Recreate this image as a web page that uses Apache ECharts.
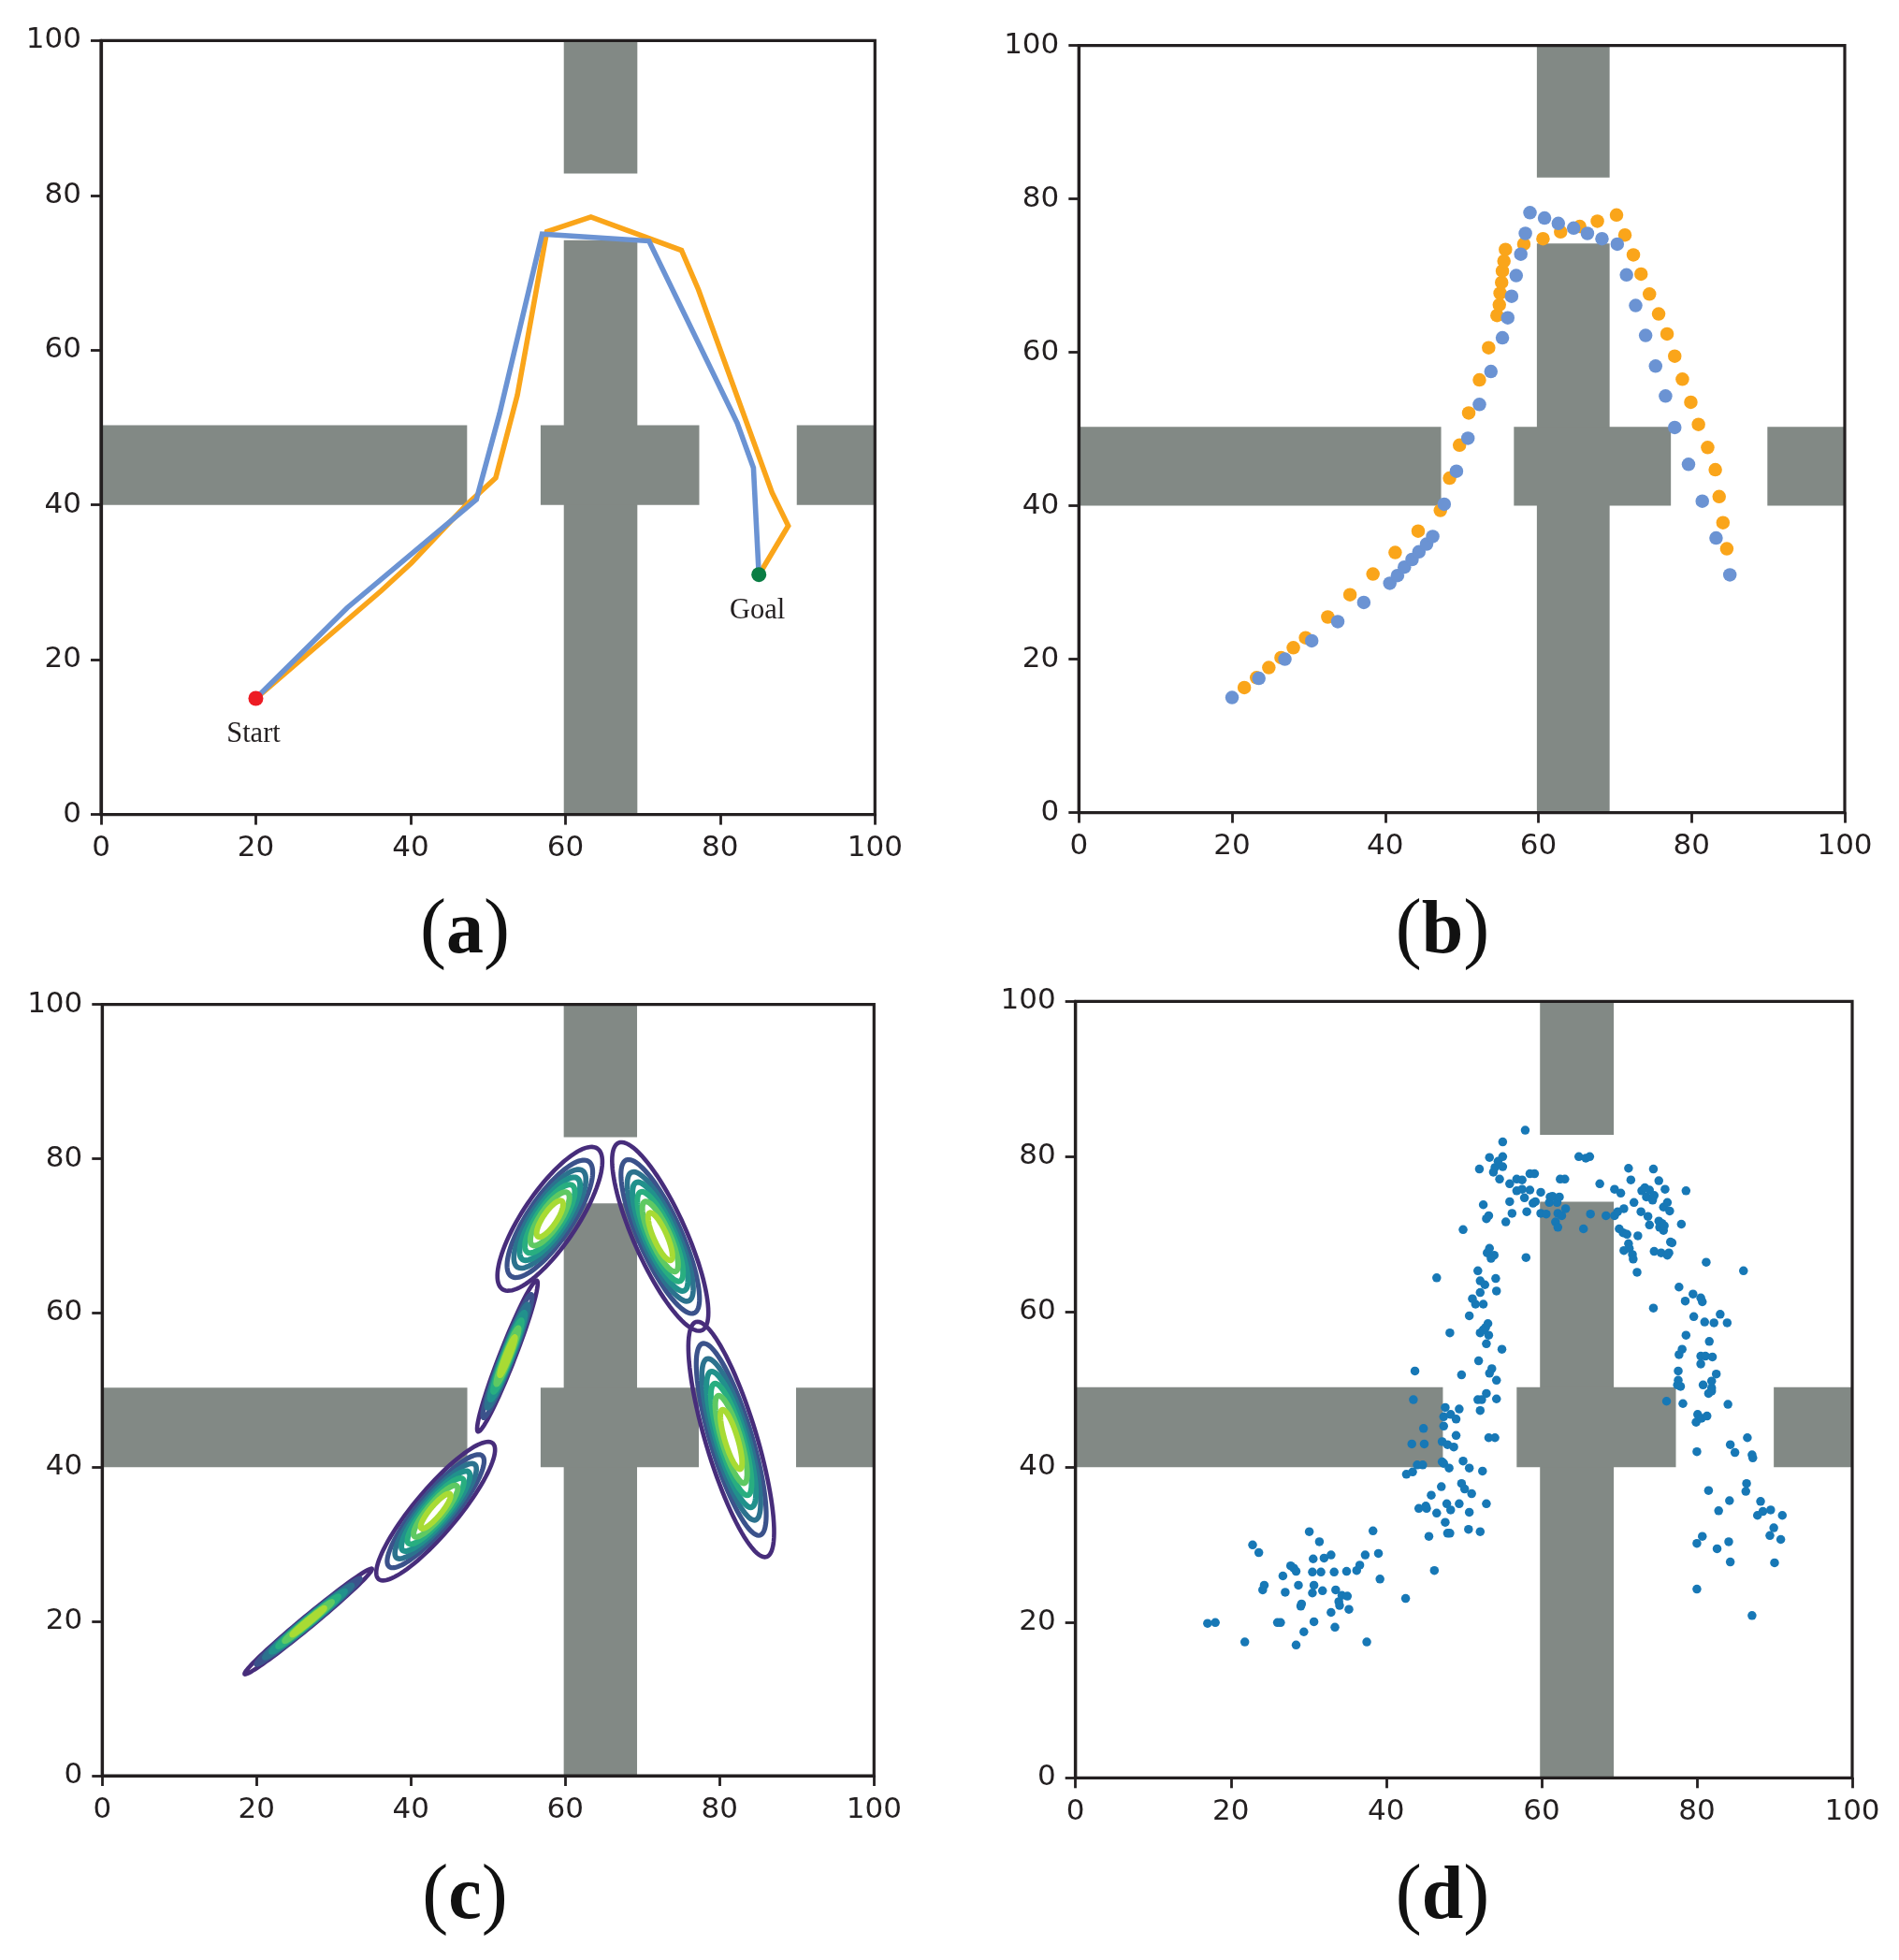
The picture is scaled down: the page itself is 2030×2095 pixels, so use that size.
<!DOCTYPE html>
<html>
<head>
<meta charset="utf-8">
<style>html,body{margin:0;padding:0;background:#fff}#c{width:2030px;height:2095px}</style>
<script src="https://cdn.jsdelivr.net/npm/echarts@6/dist/echarts.min.js"></script>
</head>
<body>
<div id="c"></div>
<script>
const tickValues = [0, 20, 40, 60, 80, 100];
// x0, x1, y0, y1
const obstacleRects = [[59.8,69.3,82.8,100],[59.8,69.3,0,74.2],[0,47.3,40,50.3],[56.8,77.3,40,50.3],[89.9,100,40,50.3]];

const panelAOrange = [[20,15],[36.2,28.9],[40.1,32.5],[47.2,40],[51,43.5],[53.8,54.2],[57.6,75.3],[63.3,77.2],[75,72.9],[77.2,67.8],[86.7,41.6],[88.8,37.3],[85.1,31.1]];
const panelABlue = [[20,15],[31.8,26.7],[48.5,40.7],[51.5,51.8],[57,75],[70.8,74.1],[82.2,50.6],[84.3,44.8],[85,31]];
const startPoint = [20,15];
const goalPoint = [85,31];
const annotationLabels = [['Start',19.7,10.3],['Goal',84.8,26.3]];

const panelBOrange = [[21.6,16.3],[23.2,17.6],[24.8,18.9],[26.4,20.2],[28,21.5],[29.6,22.8],[32.5,25.5],[35.4,28.4],[38.4,31.1],[41.3,33.9],[44.3,36.7],[47.2,39.4],[48.4,43.6],[49.7,47.9],[50.9,52.1],[52.3,56.4],[53.5,60.6],[54.6,64.8],[54.9,66.2],[55,67.7],[55.2,69.1],[55.3,70.6],[55.5,71.9],[55.7,73.4],[58.1,74.1],[60.6,74.8],[62.9,75.7],[65.4,76.4],[67.7,77.1],[70.2,77.9],[71.3,75.3],[72.4,72.7],[73.4,70.2],[74.5,67.6],[75.7,65],[76.8,62.4],[77.8,59.5],[78.8,56.5],[79.9,53.5],[80.9,50.6],[82.1,47.6],[83.1,44.7],[83.6,41.2],[84.1,37.8],[84.6,34.4]];
const panelBBlue = [[20,15],[23.5,17.5],[26.9,20],[30.4,22.4],[33.8,24.9],[37.2,27.4],[40.6,29.9],[41.6,30.9],[42.5,32],[43.5,33],[44.4,34],[45.4,35],[46.2,36],[47.7,40.2],[49.3,44.5],[50.8,48.8],[52.3,53.2],[53.8,57.5],[55.3,61.9],[56,64.5],[56.5,67.3],[57.1,70],[57.7,72.8],[58.3,75.5],[58.9,78.2],[60.8,77.5],[62.6,76.8],[64.6,76.2],[66.4,75.5],[68.3,74.8],[70.3,74.1],[71.5,70.1],[72.7,66.1],[74,62.2],[75.3,58.2],[76.6,54.3],[77.8,50.2],[79.6,45.4],[81.4,40.6],[83.2,35.8],[85,31]];

// centre x, centre y, semi-major, semi-minor, angle (deg) of outermost contour
const contourEllipses = [[26.7,20,10.7,0.75,39.6],[43.2,34.3,11.5,2.8,50],[52.5,54.4,10.5,1,68.7],[58,72.2,11,3.5,56],[72.3,69.9,13.3,3.4,-66],[81.5,43.6,15.9,3.3,-73.3]];
const contourScales = [1,0.816,0.686,0.577,0.475,0.372,0.253];
const contourColors = ['#472d7b','#3b528b','#2c728e','#21918c','#28ae80','#5ec962','#a8db34'];
const contourWidths = [4.6,5.2,5.6,6,6,6,6];

const panelDPoints = [[17,19.9],[18,20],[21.8,17.5],[22.8,30],[23.6,29],[24.1,24.2],[24.3,24.8],[26,20],[26.4,20],[26.7,26],[27,23.9],[27.7,27.3],[28.1,27],[28.4,26.6],[28.4,17.1],[28.7,24.8],[29,22.1],[29.1,22.4],[29.4,18.8],[30.1,31.7],[30.5,26.5],[30.6,28.2],[30.5,23.8],[30.7,24.8],[30.7,20.1],[31.4,30.4],[31.6,26.5],[31.8,24.1],[32,28.3],[32.9,28.7],[32.9,21.3],[33.3,26.5],[33.4,19.4],[33.5,24.2],[33.9,22.7],[34,22.2],[34.3,23.5],[35,23.4],[34.9,26.6],[35.2,21.7],[36.2,26.7],[36.6,27.4],[37.3,28.7],[37.5,17.5],[38.3,31.8],[39,28.9],[39.2,25.6],[42.5,23.1],[46.2,26.7],
[42.6,39.1],[43.4,39.4],[43.3,43],[43.5,48.7],[43.7,52.4],[44,40.3],[44.7,40.3],[44.8,45],[44.9,43],[44.2,34.7],[45.2,34.7],[45.1,35],[45.5,31.1],[45.8,36.4],[46.5,64.4],[46.5,34.1],[47.1,37.5],[47.2,40.7],[47.4,40.5],[47.2,43.3],[47.4,45.3],[47.4,46.5],[47.6,47.7],[47.9,42.9],[48.1,39.9],[47.8,35.3],[47.6,32.9],[47.9,31.5],[48.2,31.5],[48.3,34.5],[48.3,46.8],[48.2,57.3],[48.7,42.6],[49,44.1],[49,46.2],[49.4,47.5],[49.4,35.3],[49.7,37.9],[49.9,40.8],[50.1,37.2],[49.7,51.9],[49.9,70.6],[50.6,32],[50.7,34.2],[50.7,39.9],[51,36.6],[52.1,31.7],[52.4,39.5],[52.9,35.3],[53.2,43.8],[54,43.8],
[52.1,47.3],[51.8,48.7],[52.3,48.7],[52.9,49.5],[54.2,48.8],[54.2,51.2],[53.3,52.1],[53.6,52.7],[51.9,53.7],[54.9,55.2],[52.9,55.9],[53.2,57],[52.1,57.3],[52.5,57.7],[52.8,58],[53.1,58.5],[50.7,59.5],[51.1,61.7],[51.5,61],[52.5,61],[52.1,62.5],[54.2,62.7],[52.7,63.5],[52.1,64],[54.1,64.3],[51.8,65.3],[53,67.6],[53.9,67.3],[53.5,66.9],[53.3,68.2],[52.9,72],[53.2,72.4],[52.5,73.8],[52,78.4],[53.3,79.9],[53.8,78],[54,78.6],[54.4,79.4],[55,80],[55,78.7],[55,81.9],[54.6,77.1],[55.4,71.6],[55.9,76.5],[55.9,74.2],[56.2,72.7],[56.8,77.1],[56.8,75.6],[57.5,77],[57.5,75.8],[57.8,74.7],[57.9,83.4],[58,67],[58.1,72.9],[58.5,77.8],[59.1,77.8],[58.5,75.7],[58.9,74],[59.2,74.2],[59.9,75.4],[59.9,72.7],[60.6,72.6],[61.1,74.8],[61,74.1],[61.4,74.9],[61.8,71.6],[62,74.1],[62.3,74.8],[62.1,72.7],[62.1,70.9],[62.6,72.4],[62.4,77.1],[63,77.1],[63.1,73.3],[65.4,70.7],[64.8,80],[65.7,79.8],[66.2,80],[66.3,72.6],[67.5,76.5],[68.3,72.4],[69.4,72.4],[69.4,75.8],[69.8,72.9],[70.2,75.3],[70.6,73.3],[70,70.7],[70.5,70.2],[71,70],[70.6,67.9],[71.2,68.8],[71.2,78.5],[71.5,77],[71.3,68.2],[71.7,67.4],[71.8,66.8],[71.9,74.1],[72.3,65.1],[72.4,69.8],[72.8,72.9],[72.9,75.6],[73.3,76],[73.5,74.8],[73.7,72.3],[73.9,71.2],[73.9,75.7],[74.3,74.4],[74.4,60.5],[74.4,78.4],[74.5,75],[74.5,67.8],[75.1,76.9],[75.1,71.7],[75.2,70.9],[75.4,67.6],[75.5,71.4],[75.7,70.5],[75.8,71.1],[75.7,73.5],[75.9,75.8],[76.1,48.5],[76.2,74.1],[76.2,67.3],[76.4,67.6],[76.5,73],[76.6,69],[76.8,68.9],
[77.5,50.6],[77.6,51.2],[77.6,52.4],[77.7,54.5],[77.9,50.4],[78.2,48.2],[78.1,55.2],[77.7,63.2],[78,71.3],[78.6,75.6],[78.5,61.4],[78.6,57],[79.5,62.3],[79.6,59.4],[80,42],[79.9,45.8],[80.1,46.8],[80.6,46.3],[80.5,61.8],[80.7,61.3],[80.5,54.3],[80.5,53.3],[80.8,50.6],[81.1,54.3],[81,58.7],[81.2,66.4],[81.3,46.6],[81.5,49.5],[81.9,49.8],[81.9,50.2],[81.9,51.1],[81.6,56.2],[82,54.2],[82.2,58.6],[82.5,52],[83,59.7],[83.9,58.6],[84,48.1],[84.3,42.9],[84.9,41.9],[86,65.3],[86.5,43.8],[87.1,41.6],[87.2,41.2],[86.4,37.9],[86.3,36.9],[81.5,37],[84.2,35.7],[82.8,34.4],[80.7,31.1],[80,30.2],[84.1,30.4],[82.6,29.5],[84.3,27.8],[80,24.3],[87.1,20.9],[87.8,33.8],[88.2,35.6],[88.5,34.3],[89.5,34.5],[91,33.8],[89.9,32.2],[89.4,31.2],[90.8,30.7],[90,27.7]];

const captionLetters = ['a','b','c','d'];
const captionPos = [[492,950],[1537,950],[492,1982],[1537,1982]];
const gridBoxes = [[108,43.3,935.3,870.6],[1153.3,48.6,1972,868.6],[109.3,1073.6,934.3,1898],[1149.7,1070.3,1980,1900.3]];

const INK = '#231f20', GRAY = '#828985', ORANGE = '#faa51a', BLUE = '#6b93d3', SCATTER = '#1778b6';

function axisCommon(i, isX){
  return {
    type:'value', gridIndex:i, min:0, max:100, interval:20, z:5,
    axisLine:{show:true, onZero:false, lineStyle:{color:INK,width:3.2}},
    axisTick:{show:true, length:11, lineStyle:{color:INK,width:2.8}},
    splitLine:{show:false},
    axisLabel:{show:true, color:INK, fontFamily:'DejaVu Sans', fontSize:31, margin:21,
      showMinLabel:true, showMaxLabel:true, hideOverlap:false,
      customValues:tickValues},
    axisPointer:{show:false}
  };
}
const grids = gridBoxes.map(b=>({left:b[0], top:b[1], width:b[2]-b[0], height:b[3]-b[1], show:true, borderColor:INK, borderWidth:3.2, backgroundColor:'transparent', containLabel:false}));
const xAxes = gridBoxes.map((b,i)=>axisCommon(i,true));
const yAxes = gridBoxes.map((b,i)=>axisCommon(i,false));

function obstacleSeries(i){
  return {type:'custom', coordinateSystem:'cartesian2d', xAxisIndex:i, yAxisIndex:i, z:-1, silent:true, clip:false,
    encode:{x:[0,1], y:[2,3]}, data:obstacleRects,
    renderItem(p, api){
      const a = api.coord([api.value(0), api.value(3)]), b = api.coord([api.value(1), api.value(2)]);
      return {type:'rect', shape:{x:a[0], y:a[1], width:b[0]-a[0], height:b[1]-a[1]}, style:{fill:GRAY}};
    }};
}
function lineSeries(data,color){
  return {type:'line', xAxisIndex:0, yAxisIndex:0, data, showSymbol:false, symbol:'none', smooth:false, z:3,
    lineStyle:{color, width:5.6, join:'miter'}};
}
function dotSeries(i,data,color,size,z){
  return {type:'scatter', xAxisIndex:i, yAxisIndex:i, data, symbol:'circle', symbolSize:size, z:z||4,
    itemStyle:{color, opacity:1}};
}
const contourData = [];
contourEllipses.forEach(e=>contourScales.forEach((s,lv)=>contourData.push([e[0],e[1],e[2]*s,e[3]*s,e[4],lv])));

const series = [
  obstacleSeries(0), obstacleSeries(1), obstacleSeries(2), obstacleSeries(3),
  lineSeries(panelAOrange, ORANGE),
  lineSeries(panelABlue, BLUE),
  dotSeries(0,[startPoint],'#ed1c24',16,6),
  dotSeries(0,[goalPoint],'#0a7d44',16,6),
  {type:'custom', coordinateSystem:'cartesian2d', xAxisIndex:0, yAxisIndex:0, z:6, clip:false,
    encode:{x:1,y:2}, data:annotationLabels,
    renderItem(p, api){
      const c = api.coord([api.value(1), api.value(2)]);
      return {type:'text', x:c[0], y:c[1], style:{text:annotationLabels[p.dataIndex][0], fill:INK, fontFamily:'Liberation Serif', fontSize:30.5, textAlign:'center', textVerticalAlign:'middle'}};
    }},
  dotSeries(1,panelBOrange,ORANGE,14.5,4),
  dotSeries(1,panelBBlue,BLUE,14.5,5),
  {type:'custom', coordinateSystem:'cartesian2d', xAxisIndex:2, yAxisIndex:2, z:4, clip:false,
    encode:{x:0,y:1}, data:contourData,
    renderItem(p, api){
      const cx=api.value(0), cy=api.value(1), a=api.value(2), b=api.value(3), t=api.value(4)*Math.PI/180, lv=api.value(5);
      const pts=[];
      for(let k=0;k<96;k++){
        const u=k/96*2*Math.PI, ex=a*Math.cos(u), ey=b*Math.sin(u);
        pts.push(api.coord([cx+ex*Math.cos(t)-ey*Math.sin(t), cy+ex*Math.sin(t)+ey*Math.cos(t)]));
      }
      return {type:'polygon', shape:{points:pts}, style:{fill:'none', stroke:contourColors[lv], lineWidth:contourWidths[lv]}};
    }},
  dotSeries(3,panelDPoints,SCATTER,9.5,4)
];
const titles = captionLetters.map((l,i)=>({
  text:'{p|(}{b|'+l+'}{p|)}', left:captionPos[i][0], top:captionPos[i][1], textAlign:'center',
  textStyle:{fontWeight:'normal', rich:{p:{fontFamily:'Liberation Serif', fontWeight:'normal', fontSize:84, color:'#111'}, b:{fontFamily:'Liberation Serif', fontWeight:'bold', fontSize:80, color:'#111'}}}
}));
const chart = echarts.init(document.getElementById('c'), null, {renderer:'canvas'});
chart.setOption({animation:false, backgroundColor:'#fff', title:titles, tooltip:{show:false}, grid:grids, xAxis:xAxes, yAxis:yAxes, series});
</script>
</body>
</html>
